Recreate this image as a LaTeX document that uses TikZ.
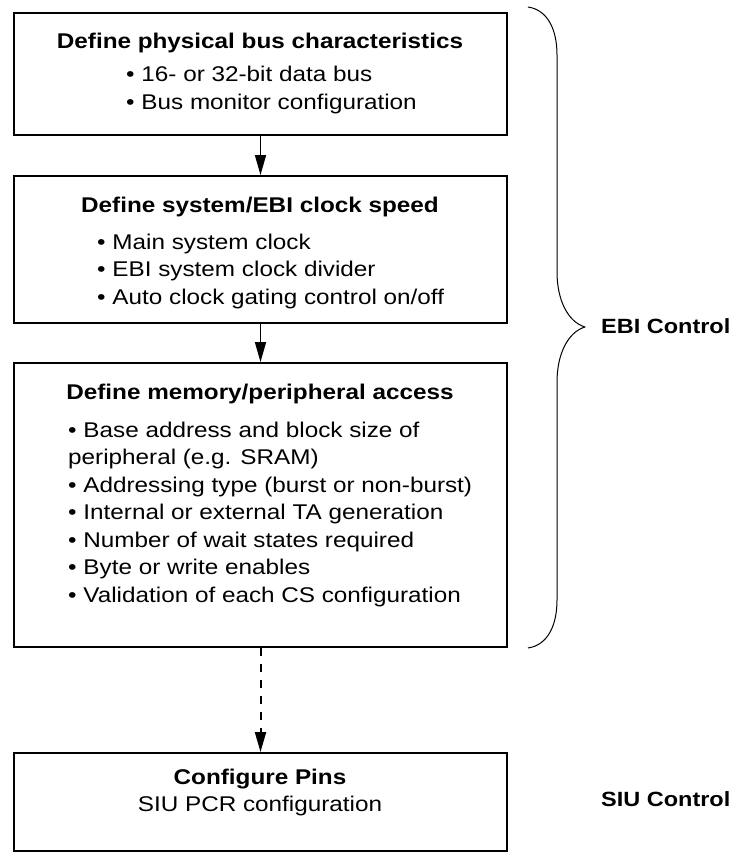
\documentclass[tikz,border=0pt]{standalone}
\usepackage{fontspec}
\setmainfont{Liberation Sans}[FakeStretch=1.14]
\usetikzlibrary{arrows.meta}
\begin{document}
\begin{tikzpicture}[x=1pt,y=-1pt,
  box/.style={draw, line width=1.9pt, minimum width=493pt, inner sep=0pt},
  ttl/.style={anchor=base, inner sep=0pt, font=\bfseries\fontsize{21.3}{27}\selectfont},
  ctr/.style={anchor=base, inner sep=0pt, font=\fontsize{21.3}{27}\selectfont},
  txt/.style={anchor=base west, inner sep=0pt, font=\fontsize{21.3}{27}\selectfont},
  side/.style={anchor=base west, inner sep=0pt, font=\bfseries\fontsize{20.6}{27}\selectfont},
  flow/.style={line width=1.6pt, -{Triangle[length=20pt,width=11pt]}},
  later/.style={flow, line width=2pt, dash pattern=on 8pt off 8pt},
  brace/.style={line width=1pt, line join=round}]
\useasboundingbox (0,0) rectangle (734,853);

% process boxes
\node[box, minimum height=122pt] (b1) at (260.5,74) {};
\node[box, minimum height=147pt] (b2) at (260.5,249.5) {};
\node[box, minimum height=284pt] (b3) at (260.5,505) {};
\node[box, minimum height=98pt]  (b4) at (260.5,802) {};

% box 1
\node[ttl] (t1) at (260,49) {Define physical bus characteristics};
\node[txt] (t1a) at (126,82)  {• 16- or 32-bit data bus};
\node[txt] (t1b) at (126,110) {• Bus monitor configuration};

% box 2
\node[ttl] (t2) at (260,212) {Define system/EBI clock speed};
\node[txt] (t2a) at (97,249) {• Main system clock};
\node[txt] (t2b) at (97,276) {• EBI system clock divider};
\node[txt] (t2c) at (97,304) {• Auto clock gating control on/off};

% box 3
\node[ttl] (t3) at (260,399) {Define memory/peripheral access};
\node[txt] (t3a) at (68,437) {• Base address and block size of};
\node[txt] (t3b) at (68,464) {peripheral (e.g. SRAM)};
\node[txt] (t3c) at (68,492) {• Addressing type (burst or non-burst)};
\node[txt] (t3d) at (68,519) {• Internal or external TA generation};
\node[txt] (t3e) at (68,547) {• Number of wait states required};
\node[txt] (t3f) at (68,574) {• Byte or write enables};
\node[txt] (t3g) at (68,602) {• Validation of each CS configuration};

% box 4
\node[ttl] (t4) at (260,784) {Configure Pins};
\node[ctr] (t4a) at (260,811) {SIU PCR configuration};

% flow arrows
\draw[flow] (b1.south) -- (b2.north);
\draw[flow] (b2.south) -- (b3.north);
\draw[later] (b3.south) -- (b4.north);

% grouping brace and labels
\coordinate (bt) at (528,7);
\coordinate (tip) at (585,327);
\coordinate (bb) at (528,648);
\draw[brace] (bt) .. controls (548,10) and (557,30) .. (557,55) -- (557,272)
  .. controls (557,300) and (568,322) .. (tip)
  .. controls (568,332) and (557,354) .. (557,382) -- (557,600)
  .. controls (557,625) and (548,645) .. (bb);
\node[side] (ebi) at (601,333) {EBI Control};
\node[side] (siu) at (601,806) {SIU Control};
\end{tikzpicture}
\end{document}
